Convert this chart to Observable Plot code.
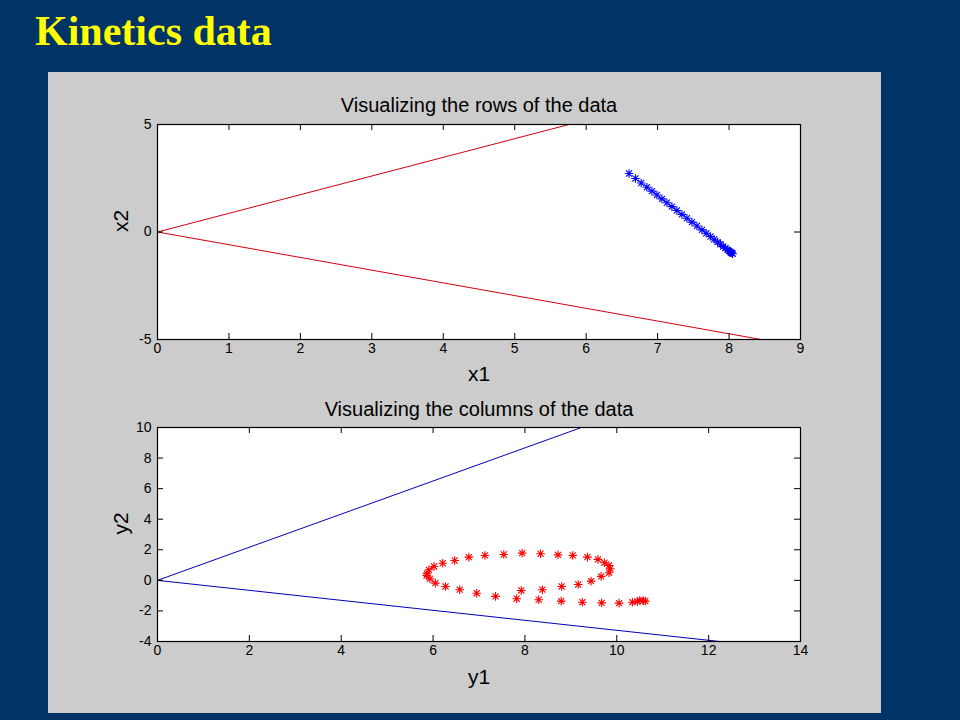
<!DOCTYPE html>
<html>
<head>
<meta charset="utf-8">
<script src="https://cdn.jsdelivr.net/npm/d3@7"></script>
<script src="https://cdn.jsdelivr.net/npm/@observablehq/plot@0.6"></script>
<style>
html, body { margin: 0; padding: 0; background: #003366; width: 960px; height: 720px; overflow: hidden; }
#title { position: absolute; left: 35px; top: 10px; font-family: "Liberation Serif", "Times New Roman", serif; font-weight: bold; font-size: 42px; line-height: 42px; color: #ffff00; white-space: nowrap; }
#panel { position: absolute; left: 48px; top: 72px; width: 833px; height: 641px; background: #cccccc; }
#topPlot, #bottomPlot { position: absolute; left: 0; }
#topPlot { top: 0; }
#bottomPlot { top: 320px; }
</style>
</head>
<body>
<div id="title">Kinetics data</div>
<div id="panel">
  <div id="topPlot"></div>
  <div id="bottomPlot"></div>
</div>
<script>
// ---------- Data ----------
// Top panel: rows of the data (x1, x2)
const rowX1 = [6.60, 6.69, 6.77, 6.85, 6.92, 6.99, 7.06, 7.13, 7.20, 7.27, 7.34, 7.41, 7.48, 7.55, 7.62, 7.68, 7.74, 7.79, 7.84, 7.88, 7.92, 7.95, 7.98, 8.00, 8.02, 8.03, 8.04, 8.05];
const rowX2 = [2.72, 2.49, 2.28, 2.08, 1.90, 1.72, 1.54, 1.36, 1.18, 1.00, 0.82, 0.64, 0.46, 0.28, 0.10, -0.06, -0.21, -0.34, -0.47, -0.57, -0.68, -0.75, -0.83, -0.88, -0.93, -0.96, -0.98, -1.01];
// Red direction lines (from origin) in the top panel
const rowLineUpper = [[0, 0], [5.76, 5]];
const rowLineLower = [[0, 0], [8.45, -5]];
const rowXTicks = [0, 1, 2, 3, 4, 5, 6, 7, 8, 9];
const rowYTicks = [-5, 0, 5];

// Bottom panel: columns of the data (y1, y2)
const colY1 = [5.87, 5.91, 6.02, 6.21, 6.47, 6.78, 7.13, 7.54, 7.94, 8.34, 8.72, 9.04, 9.36, 9.59, 9.73, 9.83, 9.86, 9.83, 9.66, 9.44, 9.16, 8.80, 8.38, 7.92,
               5.86, 5.93, 6.05, 6.27, 6.58, 6.95, 7.36, 7.82, 8.30, 8.79, 9.25, 9.67, 10.05, 10.34, 10.45, 10.50, 10.58, 10.62];
const colY2 = [0.43, 0.69, 0.91, 1.12, 1.30, 1.52, 1.63, 1.69, 1.78, 1.74, 1.67, 1.63, 1.52, 1.37, 1.15, 0.97, 0.76, 0.50, 0.26, -0.05, -0.27, -0.40, -0.61, -0.66,
               0.32, 0.10, -0.18, -0.40, -0.61, -0.84, -1.05, -1.20, -1.27, -1.36, -1.43, -1.47, -1.49, -1.43, -1.38, -1.31, -1.33, -1.36];
// Blue direction lines (from origin) in the bottom panel
const colLineUpper = [[0, 0], [9.23, 10]];
const colLineLower = [[0, 0], [12.24, -4]];
const colXTicks = [0, 2, 4, 6, 8, 10, 12, 14];
const colYTicks = [-4, -2, 0, 2, 4, 6, 8, 10];

// ---------- Drawing ----------
const W = 833, ML = 109, MR = 81, TICK = 6;
const FONT = '"Liberation Sans", Arial, Helvetica, sans-serif';

// MATLAB-style '*' marker (plus + cross)
const star = {
  draw(ctx, size) {
    const r = Math.sqrt(size / Math.PI);
    const d = r * 0.7071;
    ctx.moveTo(-r, 0); ctx.lineTo(r, 0);
    ctx.moveTo(0, -r); ctx.lineTo(0, r);
    ctx.moveTo(-d, -d); ctx.lineTo(d, d);
    ctx.moveTo(-d, d); ctx.lineTo(d, -d);
  }
};

function panel({title, xLabel, yLabel, xDomain, yDomain, xTicks, yTicks, lines, lineColor, px, py, ptColor, height, marginTop, marginBottom, titleDy, labelDy}) {
  const innerW = W - ML - MR;
  const innerH = height - marginTop - marginBottom;
  const pts = px.map((x, i) => ({x, y: py[i]}));
  return Plot.plot({
    width: W, height, marginLeft: ML, marginRight: MR, marginTop, marginBottom,
    style: {background: "transparent", fontFamily: FONT, fontSize: "14px", color: "black", overflow: "visible"},
    x: {domain: xDomain, axis: null}, y: {domain: yDomain, axis: null},
    marks: [
      Plot.frame({fill: "white", stroke: null}),
      ...lines.map(l => Plot.line(l, {x: d => d[0], y: d => d[1], stroke: lineColor, strokeWidth: 1, clip: true})),
      Plot.dot(pts, {x: "x", y: "y", symbol: star, r: 4.3, stroke: ptColor, strokeWidth: 1.1}),
      Plot.ruleX(xTicks, {x: d => d, insetTop: innerH - TICK, stroke: "black"}),
      Plot.ruleX(xTicks, {x: d => d, insetBottom: innerH - TICK, stroke: "black"}),
      Plot.ruleY(yTicks, {y: d => d, insetRight: innerW - TICK, stroke: "black"}),
      Plot.ruleY(yTicks, {y: d => d, insetLeft: innerW - TICK, stroke: "black"}),
      Plot.frame({stroke: "black", strokeWidth: 1.2}),
      // tick labels
      Plot.text(xTicks, {x: d => d, text: d => String(d), frameAnchor: "bottom", dy: 13, fontSize: 14, fill: "black"}),
      Plot.text(yTicks, {y: d => d, text: d => String(d), frameAnchor: "left", dx: -6, textAnchor: "end", fontSize: 14, fill: "black"}),
      // titles and axis labels
      Plot.text([title], {text: d => d, frameAnchor: "top", dy: titleDy, fontSize: 20}),
      Plot.text([xLabel], {text: d => d, frameAnchor: "bottom", dy: labelDy, fontSize: 21}),
      Plot.text([yLabel], {text: d => d, frameAnchor: "left", dx: -36, rotate: -90, fontSize: 21})
    ]
  });
}

document.getElementById("topPlot").append(panel({
  title: "Visualizing the rows of the data", xLabel: "x1", yLabel: "x2",
  xDomain: [0, 9], yDomain: [-5, 5], xTicks: rowXTicks, yTicks: rowYTicks,
  lines: [rowLineUpper, rowLineLower], lineColor: "#d00010",
  px: rowX1, py: rowX2, ptColor: "#0000ff",
  height: 320, marginTop: 52, marginBottom: 53, titleDy: -27, labelDy: 41
}));

document.getElementById("bottomPlot").append(panel({
  title: "Visualizing the columns of the data", xLabel: "y1", yLabel: "y2",
  xDomain: [0, 14], yDomain: [-4, 10], xTicks: colXTicks, yTicks: colYTicks,
  lines: [colLineUpper, colLineLower], lineColor: "#0000b0",
  px: colY1, py: colY2, ptColor: "#ff0000",
  height: 321, marginTop: 35, marginBottom: 72, titleDy: -26, labelDy: 42
}));
</script>
</body>
</html>
